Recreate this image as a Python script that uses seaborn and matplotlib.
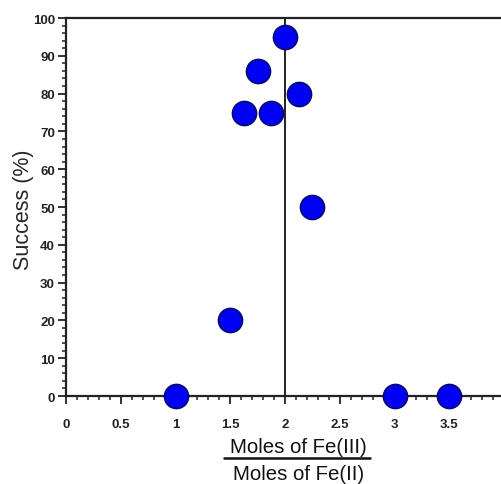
import matplotlib
matplotlib.use("Agg")
import matplotlib.pyplot as plt
from matplotlib.ticker import MultipleLocator
import seaborn as sns
import pandas as pd

sns.set_style("white")
plt.rcParams["font.family"] = ["Liberation Sans", "DejaVu Sans"]

# Fe(III)/Fe(II) mole ratio and observed success rate
ratio = [1.0, 1.5, 1.625, 1.75, 1.875, 2.0, 2.125, 2.25, 3.0, 3.5]
success = [0, 20, 75, 86, 75, 95, 80, 50, 0, 0]
x_ticks = [0, 0.5, 1, 1.5, 2, 2.5, 3, 3.5, 4]
x_tick_labels = ["0", "0.5", "1", "1.5", "2", "2.5", "3", "3.5", "4"]
y_ticks = list(range(0, 101, 10))

df = pd.DataFrame({"ratio": ratio, "success": success})

fig = plt.figure(figsize=(5.02, 4.85), dpi=100)
ax = fig.add_axes([0.1315, 0.1814, 0.8725, 0.7794])

sns.scatterplot(data=df, x="ratio", y="success", ax=ax, s=300,
                color="#0000f5", edgecolor="#0a0a6e", linewidth=1.2,
                zorder=5, clip_on=False, legend=False)

# reference line at the 2:1 ratio
ax.axvline(2, color="#222222", linewidth=1.4, zorder=3, clip_on=False)

ax.set_xlim(0, 4)
ax.set_ylim(0, 100)
ax.set_xticks(x_ticks)
ax.set_xticklabels(x_tick_labels)
ax.set_yticks(y_ticks)
ax.xaxis.set_minor_locator(MultipleLocator(0.1))
ax.yaxis.set_minor_locator(MultipleLocator(2))

ax.spines["right"].set_visible(False)
for side in ["left", "bottom", "top"]:
    ax.spines[side].set_color("#222222")
    ax.spines[side].set_linewidth(1.6)

ax.tick_params(which="major", direction="out", length=6, width=1.3,
               color="#222222", labelsize=9.5, pad=10)
ax.tick_params(which="minor", direction="out", length=3, width=1.1,
               color="#222222")
ax.tick_params(axis="y", which="major", pad=2)
ax.tick_params(top=False, right=False, which="both")
ax.tick_params(axis="x", which="both", bottom=True)
ax.tick_params(axis="y", which="both", left=True)
for lbl in ax.get_xticklabels() + ax.get_yticklabels():
    lbl.set_fontweight("bold")
    lbl.set_color("#222222")

ax.set_xlabel("")
ax.set_ylabel("Success (%)", fontsize=15.5)
ax.yaxis.set_label_coords(-0.072, 0.495)

# fraction-style x-axis label
fig.text(0.5946, 0.066, "Moles of Fe(III)", ha="center", va="baseline",
         fontsize=14.7, color="#111111")
fig.text(0.5946, 0.0103, "Moles of Fe(II)", ha="center", va="baseline",
         fontsize=14.7, color="#111111")
fig.add_artist(plt.Line2D([0.4462, 0.7371], [0.0536, 0.0536],
                          transform=fig.transFigure, color="#111111",
                          linewidth=1.8))

fig.savefig("out.png", dpi=100)
